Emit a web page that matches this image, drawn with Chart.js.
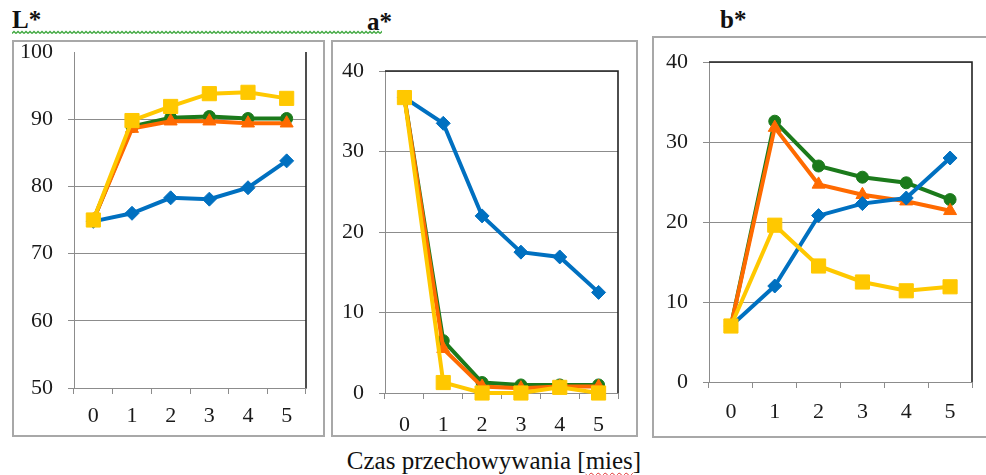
<!DOCTYPE html>
<html lang="pl">
<head>
<meta charset="utf-8">
<script src="https://cdn.jsdelivr.net/npm/chart.js@4.4.1/dist/chart.umd.min.js"></script>
<style>
  body { margin: 0; background: #fff; }
  #page { position: relative; width: 986px; height: 475px; overflow: hidden; font-family: 'Liberation Serif', 'Times New Roman', serif; color: #111; }
  .box { position: absolute; box-sizing: border-box; border: 2px solid #a8a8a8; pointer-events: none; }
  canvas { position: absolute; }
  .title { position: absolute; font-weight: bold; font-size: 25px; line-height: 24px; }
  #xlabel { position: absolute; left: 0; width: 988px; top: 447px; text-align: center; font-size: 25px; line-height: 28px; }
  .spell { text-decoration: underline wavy #e03030; text-decoration-thickness: 1px; text-underline-offset: 3px; }
</style>
</head>
<body>
<div id="page">
  <div class="title" style="left:12px; top:8px;">L*</div>
  <div class="title" style="left:367px; top:10px;">a*</div>
  <div class="title" style="left:720px; top:8px;">b*</div>
  <svg style="position:absolute; left:12px; top:30px;" width="370" height="5">
    <defs>
      <pattern id="wave" width="4" height="5" patternUnits="userSpaceOnUse">
        <polyline points="0,3.5 2,1.5 4,3.5" fill="none" stroke="#3ea83e" stroke-width="1.3"/>
      </pattern>
    </defs>
    <rect width="370" height="5" fill="url(#wave)"/>
  </svg>

  <canvas id="chartL" width="312" height="397" style="left:12px; top:40px;"></canvas>
  <div class="box" style="left:12px; top:40px; width:313px; height:397px;"></div>

  <canvas id="chartA" width="306" height="397" style="left:331px; top:40px;"></canvas>
  <div class="box" style="left:331px; top:40px; width:307px; height:397px;"></div>

  <canvas id="chartB" width="340" height="402" style="left:652px; top:36px;"></canvas>
  <div class="box" style="left:652px; top:36px; width:345px; height:402px;"></div>

  <div id="xlabel">Czas przechowywania [<span class="spell">mies</span>]</div>
</div>

<script>
// storage time in months
const months = ['0', '1', '2', '3', '4', '5'];

// L*
const lBlue   = [74.8, 76.0, 78.3, 78.1, 79.8, 83.8];
const lGreen  = [75.0, 88.9, 90.2, 90.4, 90.1, 90.1];
const lOrange = [75.0, 88.6, 89.7, 89.7, 89.4, 89.4];
const lYellow = [75.0, 89.8, 91.9, 93.8, 94.0, 93.1];

// a*
const aBlue   = [36.7, 33.5, 22.0, 17.5, 16.9, 12.5];
const aGreen  = [36.7, 6.5, 1.3, 1.0, 1.0, 1.0];
const aOrange = [36.7, 5.5, 0.8, 0.6, 0.8, 0.8];
const aYellow = [36.7, 1.3, 0.0, 0.0, 0.7, 0.0];

// b*
const bBlue   = [7.0, 12.0, 20.8, 22.3, 23.0, 28.0];
const bGreen  = [7.0, 32.6, 27.0, 25.6, 24.9, 22.8];
const bOrange = [7.0, 31.8, 24.7, 23.4, 22.6, 21.4];
const bYellow = [7.0, 19.6, 14.5, 12.5, 11.4, 11.9];

const BLUE = '#0070C0', GREEN = '#1B7A1B', ORANGE = '#FF6A00', YELLOW = '#FFC800';
const GRID = '#8c8c8c';
const FONT = { family: "'Liberation Serif', 'Times New Roman', serif", size: 22 };

// black frame on the right (and top) side of the plot area
const framePlugin = {
	id: 'frame',
	afterDraw(chart, args, opts) {
		const a = chart.chartArea, c = chart.ctx;
		c.save();
		c.strokeStyle = '#222';
		c.lineWidth = 1.6;
		c.beginPath();
		if (opts.top) {
			c.moveTo(a.left, a.top);
			c.lineTo(a.right, a.top);
		} else {
			c.moveTo(a.right, a.top);
		}
		c.lineTo(a.right, a.bottom);
		c.stroke();
		c.restore();
	}
};

function series(data, color, style, radius, order) {
	return {
		data: data,
		borderColor: color,
		backgroundColor: color,
		borderWidth: 4,
		pointStyle: style,
		pointRadius: radius,
		pointBorderWidth: 1,
		tension: 0,
		order: order,
		clip: 14
	};
}

function makeChart(id, sets, cfg) {
	return new Chart(document.getElementById(id), {
		type: 'line',
		data: {
			labels: months,
			datasets: [
				series(sets[0], BLUE, 'rectRot', 7, 1),
				series(sets[1], GREEN, 'circle', 6, 3),
				series(sets[2], ORANGE, 'triangle', 7.5, 2),
				series(sets[3], YELLOW, 'rect', 10, 0)
			]
		},
		options: {
			responsive: false,
			animation: false,
			devicePixelRatio: 1,
			layout: { padding: { left: 0, right: cfg.right, top: cfg.top, bottom: 0 } },
			scales: {
				x: {
					offset: true,
					grid: { drawOnChartArea: false, offset: true, tickLength: 6, color: GRID },
					border: { color: GRID, width: 1 },
					ticks: { color: '#1a1a1a', font: FONT, padding: cfg.xpad },
					afterFit: s => { s.height = cfg.xh; s.paddingLeft = 0; s.paddingRight = 0; }
				},
				y: {
					min: cfg.min,
					max: cfg.max,
					grid: {
						tickLength: 6,
						color: c => (cfg.hideTop && c.tick && c.tick.value === cfg.max) ? 'rgba(0,0,0,0)' : GRID
					},
					border: { color: GRID, width: 1 },
					ticks: { stepSize: 10, color: '#1a1a1a', font: FONT, padding: 15 },
					afterFit: s => { s.width = cfg.yw; s.paddingTop = 0; s.paddingBottom = 0; }
				}
			},
			plugins: {
				legend: { display: false },
				tooltip: { enabled: false },
				frame: { top: cfg.frameTop }
			}
		},
		plugins: [framePlugin]
	});
}

makeChart('chartL', [lBlue, lGreen, lOrange, lYellow],
	{ min: 50, max: 100, yw: 62, xh: 49, xpad: 9, right: 18, top: 12, hideTop: true, frameTop: false });
makeChart('chartA', [aBlue, aGreen, aOrange, aYellow],
	{ min: 0, max: 40, yw: 54, xh: 44, xpad: 13, right: 19, top: 31, hideTop: false, frameTop: true });
makeChart('chartB', [bBlue, bGreen, bOrange, bYellow],
	{ min: 0, max: 40, yw: 57, xh: 56, xpad: 11, right: 20, top: 26, hideTop: false, frameTop: true });
</script>
</body>
</html>
